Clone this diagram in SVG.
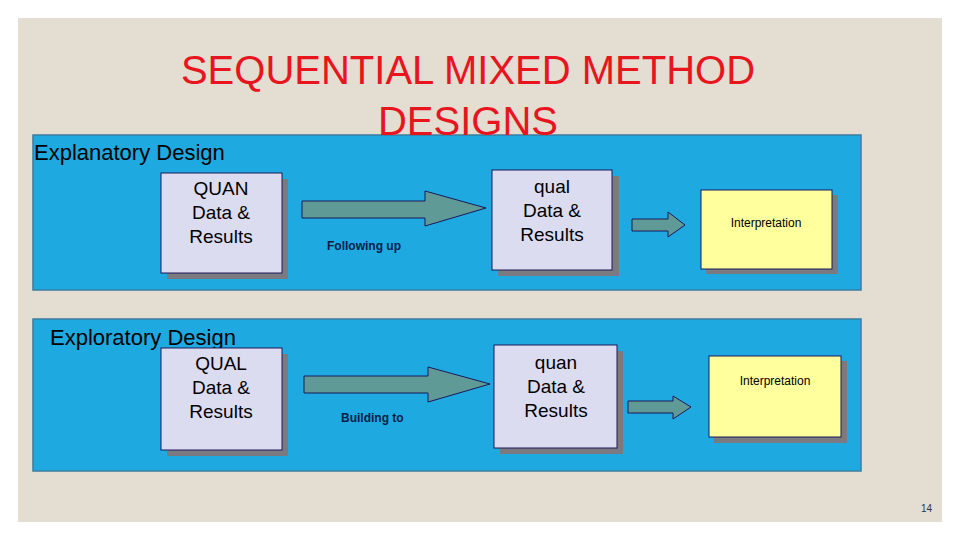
<svg xmlns="http://www.w3.org/2000/svg" width="960" height="540" viewBox="0 0 960 540">
<style>
text{font-family:"Liberation Sans",Arial,sans-serif}
.panel{fill:#1ea9e1;stroke:#3a7fa0;stroke-width:1.5}
.box{fill:#dcdcf0;stroke:#1a1a5a;stroke-width:1}
.ibox{fill:#ffff9e;stroke:#1a1a5a;stroke-width:1}
.sh{fill:#7a7a80}
.arr{fill:#5f9a96;stroke:#1a1a5a;stroke-width:1}
.bt{font-size:19px;text-anchor:middle;fill:#000}
.it{font-size:12px;text-anchor:middle;fill:#000}
.lab{font-size:12px;font-weight:bold;fill:#0a1a4a}
.hd{font-size:22px;fill:#000}
</style>
<rect x="0" y="0" width="960" height="540" fill="#ffffff"/>
<rect x="18" y="18" width="924" height="504" fill="#e3ddd2"/>
<rect class="panel" x="33" y="135" width="828" height="155"/>
<rect class="panel" x="33" y="319" width="828" height="152"/>
<text x="468" y="84" font-size="40" text-anchor="middle" fill="#e8141e">SEQUENTIAL MIXED METHOD</text>
<text x="468" y="135" font-size="40" text-anchor="middle" fill="#e8141e">DESIGNS</text>
<text class="hd" x="34" y="160">Explanatory Design</text>
<text class="hd" x="50" y="345">Exploratory Design</text>
<g id="connectors">
<polygon class="arr" points="302,201 425,201 425,191 486,208 425,226 425,218 302,218"/>
<polygon class="arr" points="632,219 668,219 668,212 685,225 668,237 668,231 632,231"/>
<polygon class="arr" points="304,376 428,376 428,367 490,384 428,402 428,393 304,393"/>
<polygon class="arr" points="628,401 673,401 673,396 691,407 673,419 673,413 628,413"/>
<text class="lab" x="327" y="250">Following up</text>
<text class="lab" x="341" y="422">Building to</text>
</g>
<g id="n1"><rect class="sh" x="167" y="179" width="121" height="100"/><rect class="box" x="161" y="173" width="121" height="100"/>
<text class="bt" x="221" y="195">QUAN</text><text class="bt" x="221" y="219">Data &amp;</text><text class="bt" x="221" y="243">Results</text></g>
<g id="n2"><rect class="sh" x="498" y="176" width="121" height="100"/><rect class="box" x="492" y="170" width="120" height="100"/>
<text class="bt" x="552" y="193">qual</text><text class="bt" x="552" y="217">Data &amp;</text><text class="bt" x="552" y="241">Results</text></g>
<g id="n3"><rect class="sh" x="706" y="195" width="132" height="79"/><rect class="ibox" x="701" y="190" width="131" height="79"/>
<text class="it" x="766" y="227">Interpretation</text></g>
<g id="n4"><rect class="sh" x="167" y="354" width="121" height="102"/><rect class="box" x="161" y="348" width="121" height="102"/>
<text class="bt" x="221" y="370">QUAL</text><text class="bt" x="221" y="394">Data &amp;</text><text class="bt" x="221" y="418">Results</text></g>
<g id="n5"><rect class="sh" x="500" y="351" width="123" height="103"/><rect class="box" x="494" y="345" width="123" height="103"/>
<text class="bt" x="556" y="369">quan</text><text class="bt" x="556" y="393">Data &amp;</text><text class="bt" x="556" y="417">Results</text></g>
<g id="n6"><rect class="sh" x="714" y="361" width="133" height="82"/><rect class="ibox" x="709" y="356" width="132" height="81"/>
<text class="it" x="775" y="385">Interpretation</text></g>
<text x="932" y="512" font-size="10" text-anchor="end" fill="#333">14</text>
</svg>
